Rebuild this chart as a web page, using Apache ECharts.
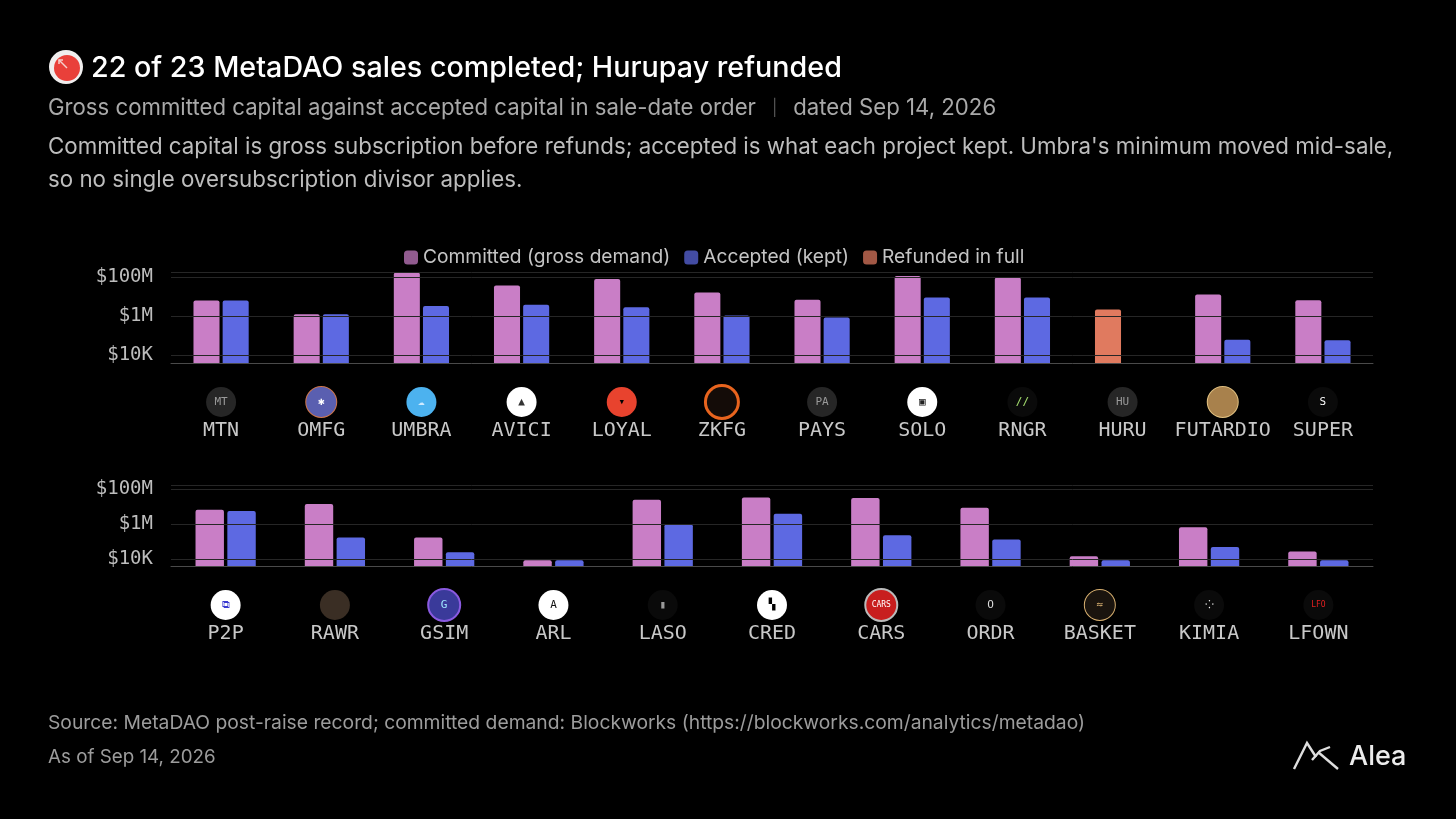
<!DOCTYPE html>
<html lang="en">
<head>
<meta charset="UTF-8">
<title>MetaDAO sales: committed vs accepted</title>
<script src="https://cdn.jsdelivr.net/npm/echarts@6/dist/echarts.min.js"></script>
<style>
    html, body { margin: 0; padding: 0; background: #000; }
    #chart { width: 1456px; height: 819px; }
</style>
</head>
<body>
<div id="chart"></div>
<script>
// --- data (USD) ---
var topNames      = ['MTN', 'OMFG', 'UMBRA', 'AVICI', 'LOYAL', 'ZKFG', 'PAYS', 'SOLO', 'RNGR', 'HURU', 'FUTARDIO', 'SUPER'];
var topCommitted  = [6.3e6, 1.25e6, 1.7e8, 3.7e7, 8.0e7, 1.6e7, 6.8e6, 1.12e8, 9.3e7, null, 1.26e7, 6.5e6];
var topAccepted   = [6.3e6, 1.25e6, 3.3e6, 3.8e6, 2.8e6, 1.08e6, 8.6e5, 8.9e6, 8.9e6, null, 6.1e4, 5.9e4];
var topRefunded   = [null, null, null, null, null, null, null, null, null, 2.2e6, null, null];

var bottomNames     = ['P2P', 'RAWR', 'GSIM', 'ARL', 'LASO', 'CRED', 'CARS', 'ORDR', 'BASKET', 'KIMIA', 'LFOWN'];
var bottomCommitted = [6.9e6, 1.45e7, 1.75e5, 8.5e3, 2.6e7, 3.4e7, 3.2e7, 9.0e6, 1.45e4, 6.7e5, 2.7e4];
var bottomAccepted  = [5.7e6, 1.75e5, 2.5e4, 8.5e3, 1.0e6, 4.0e6, 2.3e5, 1.35e5, 8.5e3, 5.0e4, 8.5e3];

var tickLabels = { 1e4: '$10K', 1e6: '$1M', 1e8: '$100M' };
var gridValues = [1e4, 1e6, 1e8];

// --- styles ---
var C_COMMIT = '#c97ec6';
var C_ACCEPT = '#5d69e2';
var C_REFUND = '#e07a5f';
var MONO = '"DejaVu Sans Mono", monospace';
var SANS = 'Inter, "Noto Sans", sans-serif';

// token badge look (approximation of the logos)
var icons = {
    MTN:      { bg: '#262626', t: 'MT', c: '#9a9a9a' },
    OMFG:     { bg: '#5a5fb0', t: '✱', c: '#ffffff', bc: '#d0774a', bw: 1 },
    UMBRA:    { bg: '#4cb2ef', t: '☁', c: '#cfeaff' },
    AVICI:    { bg: '#ffffff', t: '▲', c: '#333333' },
    LOYAL:    { bg: '#e8432e', t: '▾', c: '#000000' },
    ZKFG:     { bg: '#140c08', t: '', c: '#fff', bc: '#e8641e', bw: 3 },
    PAYS:     { bg: '#262626', t: 'PA', c: '#9a9a9a' },
    SOLO:     { bg: '#ffffff', t: '▣', c: '#222222' },
    RNGR:     { bg: '#0a0a0a', t: '//', c: '#a6e070' },
    HURU:     { bg: '#262626', t: 'HU', c: '#9a9a9a' },
    FUTARDIO: { bg: '#a8814c', t: '', c: '#fff', bc: '#e0c080', bw: 1 },
    SUPER:    { bg: '#0a0a0a', t: 'S', c: '#ffffff' },
    P2P:      { bg: '#ffffff', t: '⧉', c: '#3a3ad0' },
    RAWR:     { bg: '#3a2e24', t: '', c: '#fff' },
    GSIM:     { bg: '#3a3a9a', t: 'G', c: '#9fe8ff', bc: '#8a5ae0', bw: 2 },
    ARL:      { bg: '#ffffff', t: 'A', c: '#111111' },
    LASO:     { bg: '#0a0a0a', t: '▮', c: '#9a9a9a' },
    CRED:     { bg: '#ffffff', t: '▚', c: '#000000' },
    CARS:     { bg: '#c81e1e', t: 'CARS', c: '#ffffff', bc: '#bbbbbb', bw: 2 },
    ORDR:     { bg: '#0a0a0a', t: 'O', c: '#dddddd' },
    BASKET:   { bg: '#1a140e', t: '≈', c: '#d8b070', bc: '#d8b070', bw: 1 },
    KIMIA:    { bg: '#0a0a0a', t: '⁘', c: '#ffffff' },
    LFOWN:    { bg: '#0a0a0a', t: 'LFO', c: '#e02020' }
};

function buildRich(names) {
    var rich = {
        n: { fontFamily: MONO, fontSize: 20, color: '#c8c8c8', lineHeight: 28, align: 'center' }
    };
    names.forEach(function (nm) {
        var ic = icons[nm];
        rich['i' + nm] = {
            width: 30, height: 30, lineHeight: 30, borderRadius: 15,
            backgroundColor: ic.bg, color: ic.c, align: 'center',
            borderColor: ic.bc || 'transparent', borderWidth: ic.bw || 0,
            fontFamily: MONO, fontSize: ic.t.length > 2 ? 8 : 11
        };
    });
    return rich;
}

function xAxisFor(gi, names) {
    return {
        type: 'category', gridIndex: gi, data: names,
        axisLine: { lineStyle: { color: '#4a4a4a', width: 1 } },
        axisTick: { show: false },
        axisLabel: {
            margin: 24, interval: 0,
            formatter: function (v) {
                return '{i' + v + '|' + icons[v].t + '}\n{n|' + v + '}';
            },
            rich: buildRich(names)
        }
    };
}

function yAxisFor(gi) {
    return {
        type: 'log', logBase: 10, gridIndex: gi,
        min: 4000, max: 1.8e8, startValue: 4000,
        axisLine: { show: false }, axisTick: { show: false },
        splitLine: { show: false },
        axisLabel: {
            margin: 18, color: '#bdbdbd', fontFamily: MONO, fontSize: 19,
            showMinLabel: false, showMaxLabel: false,
            formatter: function (v) {
                var k = Math.round(v);
                for (var key in tickLabels) {
                    if (Math.abs(k - Number(key)) / Number(key) < 1e-6) return tickLabels[key];
                }
                return '';
            }
        }
    };
}

var gridLines = {
    silent: true, symbol: 'none', animation: false,
    label: { show: false },
    lineStyle: { color: '#262626', type: 'solid', width: 1 },
    data: gridValues.concat([1.8e8]).map(function (v) { return { yAxis: v }; })
};

var barBase = { type: 'bar', barWidth: '26%', barGap: '12%', itemStyle: { borderRadius: [2, 2, 0, 0] } };

var topCommitData = topNames.map(function (n, i) {
    if (topRefunded[i] != null) return { value: topRefunded[i], itemStyle: { color: C_REFUND } };
    return topCommitted[i] == null ? '-' : topCommitted[i];
});
var topAcceptData = topAccepted.map(function (v) { return v == null ? '-' : v; });

var chart = echarts.init(document.getElementById('chart'));

chart.setOption({
    backgroundColor: '#000',
    animation: false,
    textStyle: { fontFamily: SANS },
    legend: {
        left: 399, top: 243, itemWidth: 14, itemHeight: 14, itemGap: 14,
        icon: 'roundRect',
        itemStyle: { opacity: 0.72 },
        textStyle: { color: '#c4c4c4', fontSize: 19.2, fontFamily: SANS },
        data: ['Committed (gross demand)', 'Accepted (kept)', 'Refunded in full']
    },
    grid: [
        { left: 171, right: 83, top: 272, height: 91 },
        { left: 171, right: 83, top: 485, height: 81 }
    ],
    xAxis: [xAxisFor(0, topNames), xAxisFor(1, bottomNames)],
    yAxis: [yAxisFor(0), yAxisFor(1)],
    series: [
        Object.assign({}, barBase, {
            name: 'Committed (gross demand)', xAxisIndex: 0, yAxisIndex: 0,
            color: C_COMMIT, data: topCommitData, markLine: gridLines, z: 3
        }),
        Object.assign({}, barBase, {
            name: 'Accepted (kept)', xAxisIndex: 0, yAxisIndex: 0,
            color: C_ACCEPT, data: topAcceptData, z: 3
        }),
        Object.assign({}, barBase, {
            name: 'Committed (gross demand)', xAxisIndex: 1, yAxisIndex: 1,
            color: C_COMMIT, data: bottomCommitted, markLine: gridLines, z: 3
        }),
        Object.assign({}, barBase, {
            name: 'Accepted (kept)', xAxisIndex: 1, yAxisIndex: 1,
            color: C_ACCEPT, data: bottomAccepted, z: 3
        }),
        {
            name: 'Refunded in full', type: 'scatter', xAxisIndex: 0, yAxisIndex: 0,
            color: C_REFUND, data: []
        }
    ],
    graphic: [
        // title badge
        { type: 'circle', shape: { cx: 66, cy: 67, r: 17 }, style: { fill: '#f0eeee' } },
        { type: 'circle', shape: { cx: 67, cy: 68, r: 13 }, style: { fill: '#e9403a' } },
        { type: 'polyline', shape: { points: [[67, 68], [59, 60]] }, style: { stroke: '#f6d0cc', lineWidth: 1.5, fill: null } },
        { type: 'polyline', shape: { points: [[59, 64], [59, 60], [63, 60]] }, style: { stroke: '#f6d0cc', lineWidth: 1.5, fill: null } },
        {
            type: 'text', x: 91, y: 68,
            style: { text: '22 of 23 MetaDAO sales completed; Hurupay refunded', fill: '#ffffff',
                     font: '500 28.7px ' + SANS, verticalAlign: 'middle' }
        },
        {
            type: 'text', x: 48, y: 108,
            style: {
                text: '{a|Gross committed capital against accepted capital in sale-date order}{s||}{a|dated Sep 14, 2026}',
                verticalAlign: 'middle',
                rich: {
                    a: { fill: '#a9a9a9', font: '22.2px ' + SANS },
                    s: { fill: '#555555', font: '16px ' + SANS, padding: [0, 16, 0, 16] }
                }
            }
        },
        {
            type: 'text', x: 48, y: 147,
            style: { text: 'Committed capital is gross subscription before refunds; accepted is what each project kept. Umbra\'s minimum moved mid-sale,',
                     fill: '#bdbdbd', font: '22.3px ' + SANS, verticalAlign: 'middle' }
        },
        {
            type: 'text', x: 48, y: 180,
            style: { text: 'so no single oversubscription divisor applies.',
                     fill: '#bdbdbd', font: '22.3px ' + SANS, verticalAlign: 'middle' }
        },
        {
            type: 'text', x: 48, y: 723,
            style: { text: 'Source: MetaDAO post-raise record; committed demand: Blockworks (https://blockworks.com/analytics/metadao)',
                     fill: '#9c9c9c', font: '19.3px ' + SANS, verticalAlign: 'middle' }
        },
        {
            type: 'text', x: 48, y: 757,
            style: { text: 'As of Sep 14, 2026', fill: '#9c9c9c', font: '18.8px ' + SANS, verticalAlign: 'middle' }
        },
        // Alea mark
        { type: 'polyline', shape: { points: [[1294, 769], [1307, 743], [1316, 757]] },
          style: { stroke: '#dedede', lineWidth: 2.4, fill: null } },
        { type: 'polyline', shape: { points: [[1312, 760], [1320, 751], [1330, 747]] },
          style: { stroke: '#dedede', lineWidth: 2.4, fill: null } },
        { type: 'polyline', shape: { points: [[1318, 752], [1338, 769]] },
          style: { stroke: '#dedede', lineWidth: 2.4, fill: null } },
        {
            type: 'text', x: 1349, y: 757,
            style: { text: 'Alea', fill: '#ececec', font: '500 27px ' + SANS, verticalAlign: 'middle' }
        }
    ]
});
</script>
</body>
</html>
